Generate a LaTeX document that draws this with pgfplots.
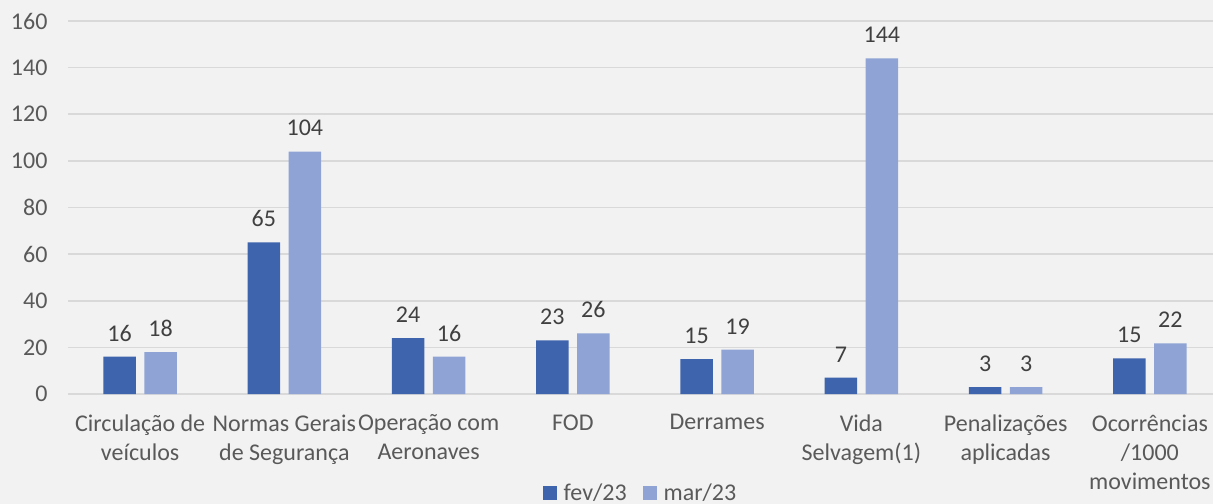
\documentclass[border=0pt]{standalone}
\usepackage{pgfplots}
\pgfplotsset{compat=1.18}
\usepackage{fontspec}
\setmainfont{Carlito}
\definecolor{bg}{HTML}{F2F2F2}
\definecolor{dk}{HTML}{3D64AD}
\definecolor{lt}{HTML}{8FA4D5}
\definecolor{grd}{HTML}{D9D9D9}
\definecolor{tk}{HTML}{595959}
\definecolor{lb}{HTML}{404040}
\begin{document}
\begin{tikzpicture}[font=\fontsize{24bp}{29bp}\selectfont]
\path[fill=bg, use as bounding box] (-68bp,-110bp) rectangle (1145bp,394bp);
\begin{axis}[
  scale only axis, width=1154bp, height=373bp,
  at={(0,0)}, anchor=south west,
  ymin=0, ymax=160, ytick={0,20,...,160},
  xmin=-0.5, xmax=7.5, xtick={0,...,7},
  xticklabels={{Circulação de\\veículos},{Normas Gerais\\de Segurança},{Operação com\\Aeronaves},{FOD},{Derrames},{Vida\\Selvagem(1)},{Penalizações\\aplicadas},{Ocorrências\\/1000\\movimentos}},
  xticklabel style={align=center, text=tk, yshift=-17bp, font=\fontsize{24bp}{29bp}\selectfont},
  yticklabel style={text=tk, xshift=-17bp, font=\fontsize{24bp}{29bp}\selectfont},
  /pgf/number format/assume math mode=true,
  ybar=8.5bp, bar width=32.5bp,
  axis line style={draw=none},
  major tick length=0pt,
  ymajorgrids, grid style={grd, line width=1.5bp},
  nodes near coords={\pgfmathprintnumber[fixed,precision=0]{\pgfplotspointmeta}},
  every node near coord/.append style={text=lb, yshift=12bp, font=\fontsize{24bp}{29bp}\selectfont},
  legend image code/.code={\fill[#1] (0bp,-7bp) rectangle (14bp,7bp); \path (19bp,0bp);},
  legend style={at={(0.4961,-0.265)}, anchor=center, legend columns=2, draw=none, fill=none,
    font=\fontsize{24bp}{29bp}\selectfont, text=tk,
    /tikz/every even column/.append style={column sep=14bp}},
]
\addplot[fill=dk, draw=none] coordinates {(0,16) (1,65) (2,24) (3,23) (4,15) (5,7) (6,3) (7,15.3)};
\addplot[fill=lt, draw=none] coordinates {(0,18) (1,104) (2,16) (3,26) (4,19) (5,144) (6,3) (7,21.7)};
\legend{fev/23, mar/23}
\end{axis}
\end{tikzpicture}
\end{document}
